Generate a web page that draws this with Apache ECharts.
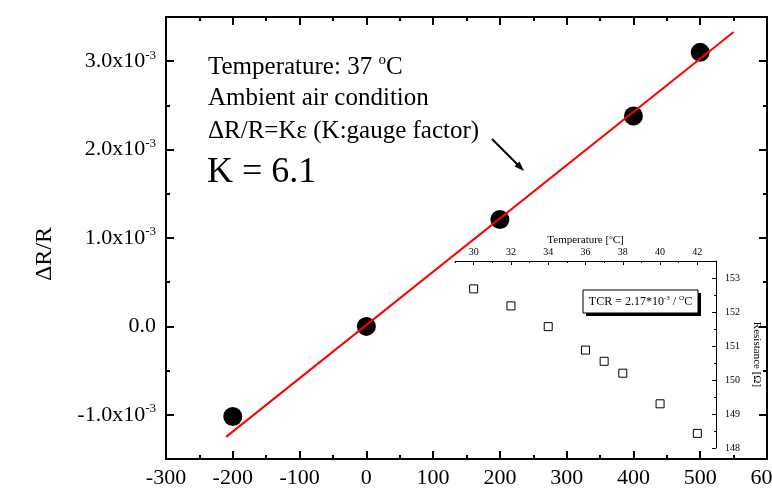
<!DOCTYPE html>
<html>
<head>
<meta charset="utf-8">
<script src="https://cdn.jsdelivr.net/npm/echarts@6/dist/echarts.min.js"></script>
<style>
  html, body { margin: 0; padding: 0; background: #fff; }
  #chart { width: 772px; height: 500px; }
</style>
</head>
<body>
<div id="chart"></div>
<script>
// main plot: strain vs dR/R
const strain = [-200, 0, 200, 400, 500];
const dRR = [-1.02e-3, 0, 1.21e-3, 2.38e-3, 3.1e-3];
// linear fit, K = 6.1
const fitStrain = [-210, 550];
const fitDRR = [-1.25e-3, 3.33e-3];
const yMajor = [-1e-3, 0, 1e-3, 2e-3, 3e-3];
const yMinor = [-0.5e-3, 0.5e-3, 1.5e-3, 2.5e-3];

// inset: resistance vs temperature
const temp = [30, 32, 34, 36, 37, 38, 40, 42];
const resistance = [152.68, 152.18, 151.57, 150.88, 150.55, 150.2, 149.3, 148.43];
const tMajor = [30, 32, 34, 36, 38, 40, 42];
const tMinor = [29, 31, 33, 35, 37, 39, 41, 43];
const rMajor = [148, 149, 150, 151, 152, 153];
const rMinor = [148.5, 149.5, 150.5, 151.5, 152.5, 153.5];

const serif = '"Liberation Serif", "Times New Roman", serif';
const chart = echarts.init(document.getElementById('chart'));

const hidden = { show: false };
const line2 = { show: true, onZero: false, lineStyle: { color: '#000', width: 2 } };
const line1 = { show: true, onZero: false, lineStyle: { color: '#000', width: 1 } };

function tickAxis(extra, values, len, width) {
  return Object.assign({
    type: 'value',
    axisLine: { show: false, onZero: false },
    axisLabel: { show: false },
    splitLine: { show: false },
    axisTick: { show: true, inside: true, length: len, customValues: values,
      lineStyle: { color: '#000', width: width } }
  }, extra);
}

const yMain = { min: -1.5e-3, max: 3.5e-3, gridIndex: 0 };
const yLabelFmt = v => Math.abs(v) < 1e-12 ? '0.0' : (v * 1000).toFixed(1) + 'x10{sup|-3}';

chart.setOption({
  animation: false,
  backgroundColor: '#fff',
  grid: [
    { left: 166, right: 5, top: 17, bottom: 41, outerBoundsMode: 'none' },
    { left: 455, right: 56, top: 261, bottom: 52, outerBoundsMode: 'none' }
  ],
  xAxis: [
    {
      type: 'value', gridIndex: 0, position: 'bottom', min: -300, max: 600, interval: 100,
      axisLine: line2,
      axisTick: { inside: true, length: 8, lineStyle: { color: '#000', width: 2 } },
      minorTick: { show: true, splitNumber: 2, length: 4, lineStyle: { color: '#000', width: 2 } },
      axisLabel: { color: '#000', fontFamily: serif, fontSize: 22, margin: 8, showMaxLabel: true },
      splitLine: hidden
    },
    {
      type: 'value', gridIndex: 0, position: 'top', min: -300, max: 600, interval: 100,
      axisLine: line2,
      axisTick: { inside: true, length: 8, lineStyle: { color: '#000', width: 2 } },
      minorTick: { show: true, splitNumber: 2, length: 4, lineStyle: { color: '#000', width: 2 } },
      axisLabel: hidden, splitLine: hidden
    },
    {
      type: 'value', gridIndex: 1, position: 'top', min: 29, max: 43,
      name: 'Temperature [{sup|o}C]', nameLocation: 'middle', nameGap: 14,
      nameTextStyle: { color: '#000', fontFamily: serif, fontSize: 11,
        rich: { sup: { fontSize: 7, fontFamily: serif, padding: [0, 0, 6, 0] } } },
      axisLine: line1,
      axisTick: { inside: true, length: 4, customValues: tMajor, lineStyle: { color: '#000', width: 1 } },
      axisLabel: { customValues: tMajor, color: '#000', fontFamily: serif, fontSize: 10, margin: 4 },
      splitLine: hidden
    },
    tickAxis({ gridIndex: 1, position: 'top', min: 29, max: 43 }, tMinor, 2, 1)
  ],
  yAxis: [
    {
      type: 'value', gridIndex: 0, position: 'left', min: -1.5e-3, max: 3.5e-3,
      axisLine: line2,
      axisTick: { inside: true, length: 8, customValues: yMajor, lineStyle: { color: '#000', width: 2 } },
      axisLabel: {
        customValues: yMajor, formatter: yLabelFmt, color: '#000',
        fontFamily: serif, fontSize: 22, margin: 10,
        rich: { sup: { fontSize: 13, fontFamily: serif, padding: [0, 0, 12, 0] } }
      },
      splitLine: hidden
    },
    tickAxis(Object.assign({ position: 'left' }, yMain), yMinor, 4, 2),
    {
      type: 'value', gridIndex: 0, position: 'right', min: -1.5e-3, max: 3.5e-3,
      axisLine: line2,
      axisTick: { inside: true, length: 8, customValues: yMajor, lineStyle: { color: '#000', width: 2 } },
      axisLabel: hidden, splitLine: hidden
    },
    tickAxis(Object.assign({ position: 'right' }, yMain), yMinor, 4, 2),
    {
      type: 'value', gridIndex: 1, position: 'right', min: 148, max: 153.5,
      name: 'Resistance [Ω]', nameLocation: 'middle', nameGap: 35, nameRotate: -90,
      nameTextStyle: { color: '#000', fontFamily: serif, fontSize: 11 },
      axisLine: line1,
      axisTick: { inside: true, length: 4, customValues: rMajor, lineStyle: { color: '#000', width: 1 } },
      axisLabel: { customValues: rMajor, color: '#000', fontFamily: serif, fontSize: 10, margin: 9 },
      splitLine: hidden
    },
    tickAxis({ gridIndex: 1, position: 'right', min: 148, max: 153.5 }, rMinor, 2, 1)
  ],
  series: [
    {
      type: 'scatter', xAxisIndex: 0, yAxisIndex: 0,
      data: strain.map((s, i) => [s, dRR[i]]),
      symbol: 'circle', symbolSize: 19,
      itemStyle: { color: '#000', opacity: 1 }, z: 2
    },
    {
      type: 'line', xAxisIndex: 0, yAxisIndex: 0,
      data: fitStrain.map((s, i) => [s, fitDRR[i]]),
      showSymbol: false, symbol: 'none',
      lineStyle: { color: '#ff0000', width: 2 }, z: 3
    },
    {
      type: 'scatter', xAxisIndex: 2, yAxisIndex: 4,
      data: temp.map((t, i) => [t, resistance[i]]),
      symbol: 'rect', symbolSize: 8,
      itemStyle: { color: '#fff', borderColor: '#000', borderWidth: 1, opacity: 1 }
    }
  ],
  graphic: [
    {
      type: 'text', left: 33, top: 227, rotation: Math.PI / 2,
      style: { text: 'ΔR/R', font: '24px ' + serif, fill: '#000' }
    },
    {
      type: 'text', x: 208, y: 67,
      style: {
        text: 'Temperature: 37 {sup|o}C', font: '25px ' + serif, fill: '#000',
        textVerticalAlign: 'middle',
        rich: { sup: { font: '15px ' + serif, padding: [0, 0, 14, 0] } }
      }
    },
    {
      type: 'text', x: 208, y: 98,
      style: { text: 'Ambient air condition', font: '25px ' + serif, fill: '#000', textVerticalAlign: 'middle' }
    },
    {
      type: 'text', x: 208, y: 131,
      style: { text: 'ΔR/R=Kε (K:gauge factor)', font: '25px ' + serif, fill: '#000', textVerticalAlign: 'middle' }
    },
    {
      type: 'text', x: 207, y: 173,
      style: { text: 'K = 6.1', font: '36px ' + serif, fill: '#000', textVerticalAlign: 'middle' }
    },
    {
      type: 'line', shape: { x1: 492, y1: 139, x2: 518, y2: 165 },
      style: { stroke: '#000', lineWidth: 2 }
    },
    {
      type: 'polygon', shape: { points: [[524, 171], [514.5, 166.5], [519.5, 161.5]] },
      style: { fill: '#000' }
    },
    {
      type: 'rect', shape: { x: 586, y: 293, width: 115, height: 23 },
      style: { fill: '#000' }, z: 10
    },
    {
      type: 'rect', shape: { x: 583, y: 290, width: 115, height: 23 },
      style: { fill: '#fff', stroke: '#000', lineWidth: 1 }, z: 11
    },
    {
      type: 'text', x: 640.5, y: 302, z: 12,
      style: {
        text: 'TCR = 2.17*10{sup|-3} / {sup|O}C', font: '12px ' + serif, fill: '#000',
        textAlign: 'center', textVerticalAlign: 'middle',
        rich: { sup: { font: '7px ' + serif, padding: [0, 0, 7, 0] } }
      }
    }
  ]
});
</script>
</body>
</html>
